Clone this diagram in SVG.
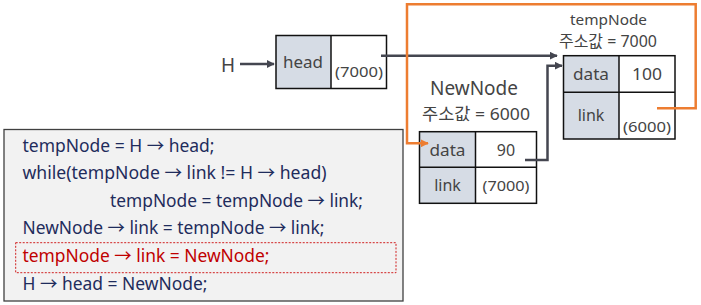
<svg xmlns="http://www.w3.org/2000/svg" width="701" height="305" viewBox="0 0 701 305">
<style>
text{font-family:"Noto Sans","Noto Sans CJK KR",sans-serif;}
.gray{fill:#d6dce5;stroke:none}
.box{fill:none;stroke:#111;stroke-width:1.5}
.lbl{font-size:16px;fill:#444;text-anchor:middle}
.addr{font-size:14.5px;fill:#444;text-anchor:middle}
.code{font-size:17.5px;fill:#1f2c5c}
.red{fill:#c00000}
.conn{fill:none;stroke:#444650;stroke-width:2.5}
.org{fill:none;stroke:#ed7d31;stroke-width:2.5}
</style>
<defs>
<marker id="ad" viewBox="0 0 10 10" refX="9" refY="5" markerWidth="3.2" markerHeight="3.2" orient="auto"><path d="M0,0L10,5L0,10z" fill="#444650"/></marker>
<marker id="ao" viewBox="0 0 10 10" refX="9" refY="5" markerWidth="3.2" markerHeight="3.2" orient="auto"><path d="M0,0L10,5L0,10z" fill="#ed7d31"/></marker>
</defs>
<rect width="701" height="305" fill="#fff"/>
<g id="codebox">
<rect x="4" y="129.5" width="399" height="171.5" fill="#f2f2f2" stroke="#404040" stroke-width="1.3"/>
<rect x="15.7" y="242.7" width="380.3" height="30" fill="none" stroke="#d02020" stroke-width="1" stroke-dasharray="2,1.5"/>
<text class="code" x="22.5" y="151.5" textLength="192" lengthAdjust="spacingAndGlyphs">tempNode = H → head;</text>
<text class="code" x="22.5" y="179" textLength="304" lengthAdjust="spacingAndGlyphs">while(tempNode → link != H → head)</text>
<text class="code" x="110" y="206.5" textLength="253" lengthAdjust="spacingAndGlyphs">tempNode = tempNode → link;</text>
<text class="code" x="22.5" y="234" textLength="302" lengthAdjust="spacingAndGlyphs">NewNode → link = tempNode → link;</text>
<text class="code red" x="22.5" y="262" textLength="247" lengthAdjust="spacingAndGlyphs">tempNode → link = NewNode;</text>
<text class="code" x="22.5" y="289.5" textLength="185" lengthAdjust="spacingAndGlyphs">H → head = NewNode;</text>
</g>
<g id="H">
<text x="228" y="72" font-size="19" fill="#444" text-anchor="middle">H</text>
</g>
<g id="head">
<rect class="gray" x="276" y="35.5" width="55" height="53"/>
<rect class="box" x="276" y="35.5" width="110.5" height="53"/>
<line x1="331" y1="35.5" x2="331" y2="88.5" stroke="#111" stroke-width="1.5"/>
<text class="lbl" x="303" y="68" textLength="40" lengthAdjust="spacingAndGlyphs">head</text>
<text class="addr" x="359" y="76.5" textLength="48" lengthAdjust="spacingAndGlyphs">(7000)</text>
</g>
<g id="tempNode">
<text x="608.5" y="25" font-size="14.5" fill="#444" text-anchor="middle" textLength="77" lengthAdjust="spacingAndGlyphs">tempNode</text>
<text x="608" y="47" font-size="15.5" fill="#444" text-anchor="middle" textLength="98" lengthAdjust="spacingAndGlyphs">주소값 = 7000</text>
<rect class="gray" x="563.5" y="55.7" width="55.5" height="83.3"/>
<rect class="box" x="563.5" y="55.7" width="111.5" height="83.3"/>
<line x1="619" y1="55.7" x2="619" y2="139" stroke="#111" stroke-width="1.5"/>
<line x1="563.5" y1="92.3" x2="675" y2="92.3" stroke="#111" stroke-width="1.5"/>
<text class="lbl" x="591" y="79.5" textLength="36" lengthAdjust="spacingAndGlyphs">data</text>
<text class="lbl" x="647" y="79.5" textLength="30" lengthAdjust="spacingAndGlyphs">100</text>
<text class="lbl" x="591" y="120.5">link</text>
<text class="addr" x="647" y="131.5" textLength="48" lengthAdjust="spacingAndGlyphs">(6000)</text>
</g>
<g id="NewNode">
<text x="474" y="95" font-size="19" fill="#444" text-anchor="middle" textLength="88" lengthAdjust="spacingAndGlyphs">NewNode</text>
<text x="476" y="120" font-size="17" fill="#444" text-anchor="middle" textLength="108" lengthAdjust="spacingAndGlyphs">주소값 = 6000</text>
<rect class="gray" x="419.5" y="131.7" width="56" height="71.6"/>
<rect class="box" x="419.5" y="131.7" width="117" height="71.6"/>
<line x1="475.5" y1="131.7" x2="475.5" y2="203.3" stroke="#111" stroke-width="1.5"/>
<line x1="419.5" y1="167.3" x2="536.5" y2="167.3" stroke="#111" stroke-width="1.5"/>
<text class="lbl" x="447.5" y="155.5" textLength="36" lengthAdjust="spacingAndGlyphs">data</text>
<text class="lbl" x="506" y="155.5">90</text>
<text class="lbl" x="447.5" y="191">link</text>
<text class="addr" x="506" y="190.5" textLength="47" lengthAdjust="spacingAndGlyphs">(7000)</text>
</g>
<g id="connectors">
<path class="conn" d="M240,64H274" marker-end="url(#ad)"/>
<path class="conn" d="M381,55.7H557" marker-end="url(#ad)"/>
<path class="conn" d="M525,160H547.5V65.7H562" marker-end="url(#ad)"/>
<path class="org" d="M657,108.3H695.7V4.3H407V143.3H428" marker-end="url(#ao)"/>
</g>
</svg>
